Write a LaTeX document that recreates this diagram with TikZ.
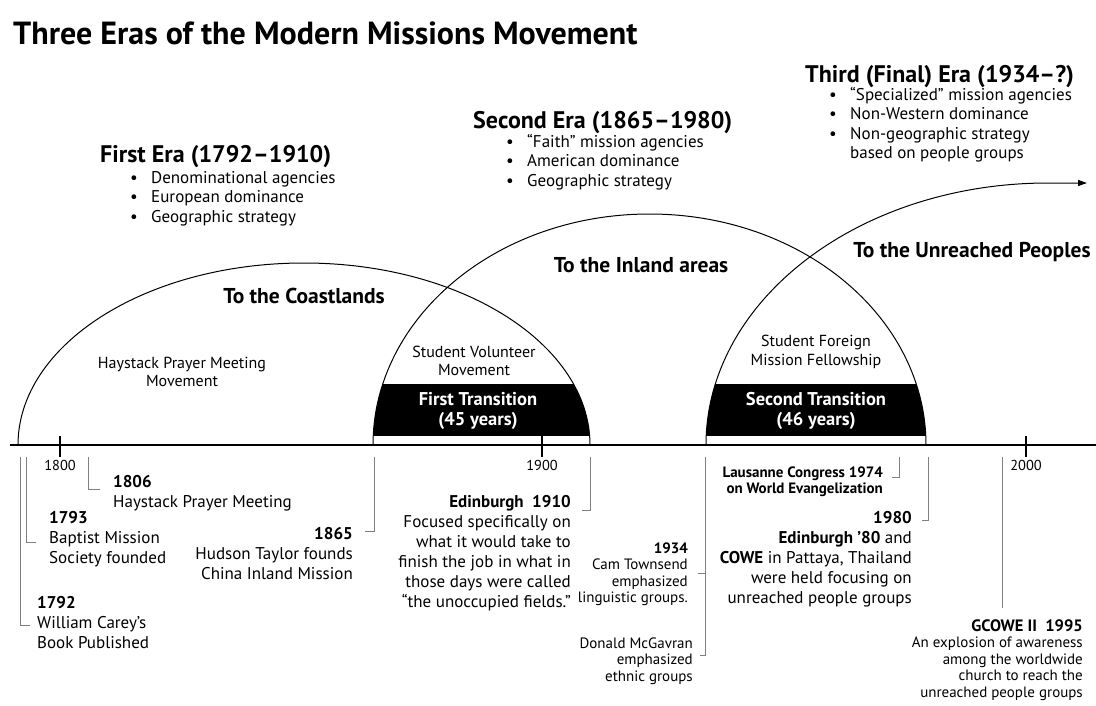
\documentclass[tikz,border=0pt]{standalone}
\usepackage{fontspec}
\setmainfont{PT Sans}
\usetikzlibrary{arrows.meta}
\newcommand{\fs}[2]{\fontsize{#1}{#2}\selectfont}
\newcommand{\bul}{\makebox[21pt][l]{\textbullet}}
\newcommand{\nobul}{\hspace*{21pt}}
\newcommand{\lft}[1]{\begin{tabular}[t]{@{}l@{}}#1\end{tabular}}
\newcommand{\rgt}[1]{\begin{tabular}[t]{@{}r@{}}#1\end{tabular}}

\begin{document}
\begin{tikzpicture}[x=1pt,y=1pt]
    \tikzstyle{every node}+=[inner sep=0pt]
    \tikzstyle{era}=[anchor=base west, font=\bfseries\fs{24}{28}]
    \tikzstyle{pts}=[anchor=base west, font=\fs{17}{19.5}]
    \tikzstyle{route}=[font=\bfseries\fs{21.5}{24}]
    \tikzstyle{move}=[align=center, font=\fs{16}{18.5}]
    \tikzstyle{trans}=[align=center, text=white, font=\bfseries\fs{18.5}{20}]
    \tikzstyle{arch}=[black, line width=1pt]
    \tikzstyle{tie}=[gray, line width=0.8pt]
    \tikzstyle{evl}=[anchor=base west, font=\fs{17}{20}]
    \tikzstyle{evr}=[anchor=base east, font=\fs{17}{20}]
    \tikzstyle{evs}=[anchor=base east, font=\fs{15}{16.6}]
    \useasboundingbox (0,0) rectangle (1096,-705);
    % title
    \node [anchor=base west, font=\bfseries\fs{32}{36}] (title) at (13,-44) {Three Eras of the Modern Missions Movement};
    % the three eras
    \node [era] (era1) at (100,-162) {First Era (1792–1910)};
    \node [pts] (pts1) at (130,-183) {\lft{\bul Denominational agencies\\\bul European dominance\\\bul Geographic strategy}};
    \node [era] (era2) at (473,-128) {Second Era (1865–1980)};
    \node [pts] (pts2) at (506,-147) {\lft{\bul “Faith” mission agencies\\\bul American dominance\\\bul Geographic strategy}};
    \node [era] (era3) at (805,-82) {Third (Final) Era (1934–?)};
    \node [pts] (pts3) at (829,-100) {\lft{\bul “Specialized” mission agencies\\\bul Non-Western dominance\\\bul Non-geographic strategy\\\nobul based on people groups}};
    % timeline
    \coordinate (ax0) at (10,-445);
    \coordinate (ax1) at (1096,-445);
    \coordinate (y1792) at (18,-445);
    \coordinate (y1865) at (373,-445);
    \coordinate (y1934) at (706,-445);
    \coordinate (tip) at (1087,-183);
    % transitions
    \begin{scope}
        \clip (304,-445) ellipse [x radius=286, y radius=182];
        \clip (649.5,-445) ellipse [x radius=276.5, y radius=231];
        \fill (350,-436) rectangle (620,-384);
    \end{scope}
    \begin{scope}
        \clip (649.5,-445) ellipse [x radius=276.5, y radius=231];
        \clip (1048,-445) ellipse [x radius=342, y radius=262];
        \fill (690,-436) rectangle (940,-384);
    \end{scope}
    \draw [arch] (y1792) arc [start angle=180, end angle=0, x radius=286, y radius=182];
    \draw [arch] (y1865) arc [start angle=180, end angle=0, x radius=276.5, y radius=231];
    \draw [arch, -{Triangle[length=9pt, width=6pt]}] (y1934) arc [start angle=180, end angle=90, x radius=342, y radius=262] -- (tip);
    \draw [black, line width=2.5pt] (ax0) -- (ax1);
    \foreach \x/\y in {60/1800, 542/1900, 1026/2000} {
        \draw [black, line width=1.5pt] (\x,-436) -- (\x,-457);
        \node [font=\fs{14.4}{16}] (tick\y) at (\x,-465) {\y};
    }
    % inside the arcs
    \node [route] (coast) at (304,-296) {To the Coastlands};
    \node [route] (inland) at (641,-265) {To the Inland areas};
    \node [route] (unreached) at (972,-252) {To the Unreached Peoples};
    \node [move] (hpm) at (182,-372) {Haystack Prayer Meeting\\Movement};
    \node [move] (svm) at (474,-361) {Student Volunteer\\Movement};
    \node [move] (sfmf) at (816,-352) {Student Foreign\\Mission Fellowship};
    \node [trans] (tr1) at (478,-411) {First Transition\\(45 years)};
    \node [trans] (tr2) at (816,-411) {Second Transition\\(46 years)};
    % events under the axis
    \coordinate (u1792) at (20,-457);
    \coordinate (u1793) at (26,-457);
    \coordinate (u1806) at (88,-457);
    \coordinate (u1865) at (374,-457);
    \coordinate (u1910) at (590,-457);
    \coordinate (u1934) at (705,-457);
    \coordinate (u1974) at (899,-457);
    \coordinate (u1980) at (928,-457);
    \coordinate (u1995) at (1002,-457);
    \node [evl] (b1792) at (37,-608) {\lft{\textbf{1792}\\William Carey's\\Book Published}};
    \node [evl] (b1793) at (49,-523) {\lft{\textbf{1793}\\Baptist Mission\\Society founded}};
    \node [evl] (b1806) at (113,-487) {\lft{\textbf{1806}\\Haystack Prayer Meeting}};
    \node [evr] (b1865) at (353,-539) {\rgt{\textbf{1865}\\Hudson Taylor founds\\China Inland Mission}};
    \node [evr] (b1910) at (571,-507) {\rgt{\textbf{Edinburgh\enspace 1910}\\Focused specifically on\\what it would take to\\finish the job in what in\\those days were called\\“the unoccupied fields.”}};
    \node [evs] (b1934) at (688,-553) {\rgt{\textbf{1934}\\Cam Townsend\\emphasized\\linguistic groups.}};
    \node [evs] (bmcg) at (693,-648) {\rgt{Donald McGavran\\emphasized\\ethnic groups}};
    \node [evs, font=\bfseries\fs{15}{16.6}] (b1974) at (883,-477) {\rgt{Lausanne Congress 1974\\on World Evangelization}};
    \node [evr] (b1980) at (912,-523) {\rgt{\textbf{1980}\\\textbf{Edinburgh ’80} and\\\textbf{COWE} in Pattaya, Thailand\\were held focusing on\\unreached people groups}};
    \node [evs] (b1995) at (1083,-631) {\rgt{{\bfseries\fs{16.5}{16.6}GCOWE II\enspace 1995}\\An explosion of awareness\\among the worldwide\\church to reach the\\unreached people groups}};
    \draw [tie] (u1792) |- ([shift={(-7pt,-17pt)}]b1792.base west);
    \draw [tie] (u1793) |- ([shift={(-13pt,-19pt)}]b1793.base west);
    \draw [tie] (u1806) |- ([shift={(-13pt,-2pt)}]b1806.base west);
    \draw [tie] (u1865) |- ([shift={(12pt,8pt)}]b1865.base east);
    \draw [tie] (u1910) |- ([shift={(11pt,-3pt)}]b1910.base east);
    \draw [tie] (u1934) |- ([shift={(10pt,-20pt)}]b1934.base east);
    \draw [tie] (u1934) |- ([shift={(7pt,-7pt)}]bmcg.base east);
    \draw [tie] (u1974) |- ([shift={(9pt,0pt)}]b1974.base east);
    \draw [tie] (u1980) |- ([shift={(10pt,3pt)}]b1980.base east);
    \draw [tie, shorten >=23pt] (u1995) -- (u1995 |- b1995.base east);
\end{tikzpicture}
\end{document}
